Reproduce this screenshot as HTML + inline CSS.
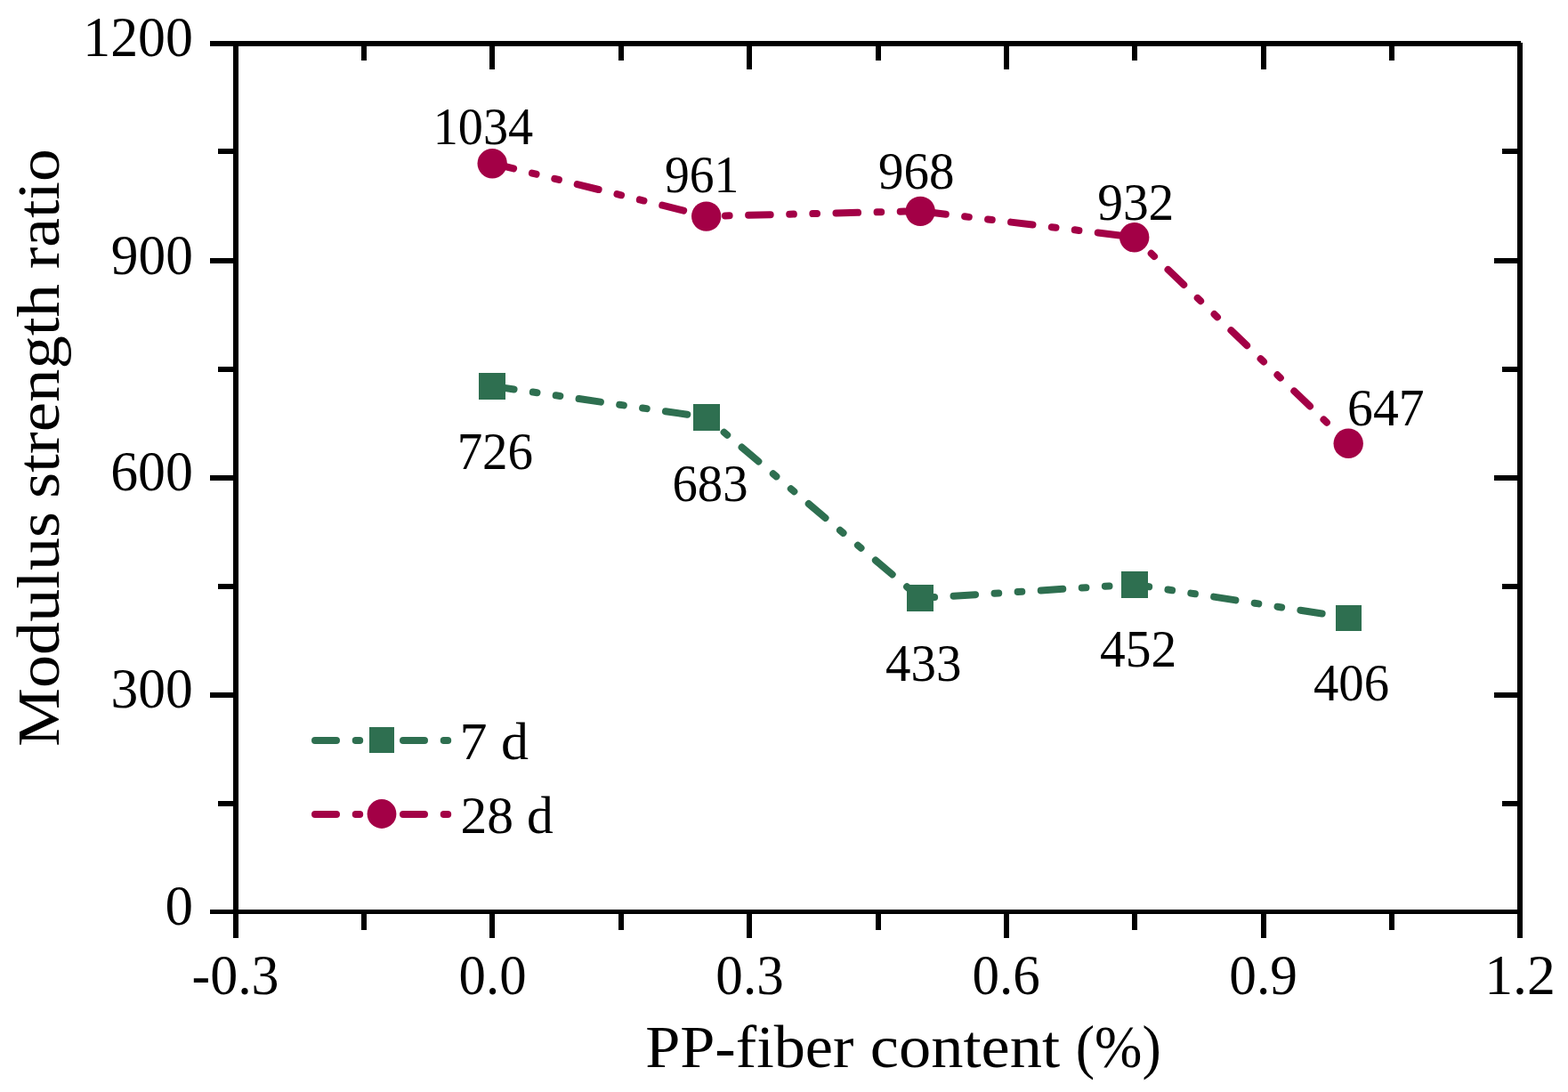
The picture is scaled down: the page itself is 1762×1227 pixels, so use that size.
<!DOCTYPE html>
<html lang="en"><head><meta charset="utf-8"><title>Modulus strength ratio vs PP-fiber content</title>
<style>html,body{margin:0;padding:0;background:#fff}body{width:1762px;height:1227px;overflow:hidden}svg{display:block}text{font-family:"Liberation Serif", "DejaVu Serif", serif;fill:#000;font-kerning:none;white-space:pre}</style>
</head><body>
<svg width="1762" height="1227" viewBox="0 0 1762 1227">
<rect x="0" y="0" width="1762" height="1227" fill="#fff"/>
<g id="axes">
<rect x="236" y="46" width="1473" height="6" fill="#000" shape-rendering="crispEdges"/>
<rect x="236" y="1022" width="1469" height="5" fill="#000" shape-rendering="crispEdges"/>
<rect x="262" y="46" width="6" height="1008" fill="#000" shape-rendering="crispEdges"/>
<rect x="1705" y="48" width="6" height="1006" fill="#000" shape-rendering="crispEdges"/>
<rect x="245" y="167" width="17" height="6" fill="#000" shape-rendering="crispEdges"/>
<rect x="1688" y="167" width="17" height="6" fill="#000" shape-rendering="crispEdges"/>
<rect x="236" y="290" width="26" height="6" fill="#000" shape-rendering="crispEdges"/>
<rect x="1679" y="290" width="26" height="6" fill="#000" shape-rendering="crispEdges"/>
<rect x="245" y="412" width="17" height="6" fill="#000" shape-rendering="crispEdges"/>
<rect x="1688" y="412" width="17" height="6" fill="#000" shape-rendering="crispEdges"/>
<rect x="236" y="534" width="26" height="6" fill="#000" shape-rendering="crispEdges"/>
<rect x="1679" y="534" width="26" height="6" fill="#000" shape-rendering="crispEdges"/>
<rect x="245" y="656" width="17" height="6" fill="#000" shape-rendering="crispEdges"/>
<rect x="1688" y="656" width="17" height="6" fill="#000" shape-rendering="crispEdges"/>
<rect x="236" y="778" width="26" height="6" fill="#000" shape-rendering="crispEdges"/>
<rect x="1679" y="778" width="26" height="6" fill="#000" shape-rendering="crispEdges"/>
<rect x="245" y="900" width="17" height="6" fill="#000" shape-rendering="crispEdges"/>
<rect x="1688" y="900" width="17" height="6" fill="#000" shape-rendering="crispEdges"/>
<rect x="406" y="52" width="6" height="16" fill="#000" shape-rendering="crispEdges"/>
<rect x="406" y="1027" width="6" height="18" fill="#000" shape-rendering="crispEdges"/>
<rect x="550" y="52" width="6" height="26" fill="#000" shape-rendering="crispEdges"/>
<rect x="550" y="1027" width="6" height="27" fill="#000" shape-rendering="crispEdges"/>
<rect x="695" y="52" width="6" height="16" fill="#000" shape-rendering="crispEdges"/>
<rect x="695" y="1027" width="6" height="18" fill="#000" shape-rendering="crispEdges"/>
<rect x="839" y="52" width="6" height="26" fill="#000" shape-rendering="crispEdges"/>
<rect x="839" y="1027" width="6" height="27" fill="#000" shape-rendering="crispEdges"/>
<rect x="984" y="52" width="6" height="16" fill="#000" shape-rendering="crispEdges"/>
<rect x="984" y="1027" width="6" height="18" fill="#000" shape-rendering="crispEdges"/>
<rect x="1128" y="52" width="6" height="26" fill="#000" shape-rendering="crispEdges"/>
<rect x="1128" y="1027" width="6" height="27" fill="#000" shape-rendering="crispEdges"/>
<rect x="1272" y="52" width="6" height="16" fill="#000" shape-rendering="crispEdges"/>
<rect x="1272" y="1027" width="6" height="18" fill="#000" shape-rendering="crispEdges"/>
<rect x="1417" y="52" width="6" height="26" fill="#000" shape-rendering="crispEdges"/>
<rect x="1417" y="1027" width="6" height="27" fill="#000" shape-rendering="crispEdges"/>
<rect x="1561" y="52" width="6" height="16" fill="#000" shape-rendering="crispEdges"/>
<rect x="1561" y="1027" width="6" height="18" fill="#000" shape-rendering="crispEdges"/>
</g>
<g id="series-7d">
<path d="M553.2 433.9 L793.7 468.9" fill="none" stroke="#2E6F50" stroke-width="8" stroke-linecap="round" stroke-dasharray="24.6 21.5 4.7 21.45 4.7 21.45" stroke-dashoffset="0.0"/>
<path d="M793.7 468.9 L1034.2 672.1" fill="none" stroke="#2E6F50" stroke-width="8" stroke-linecap="round" stroke-dasharray="24.6 21.5 4.7 21.45 4.7 21.45" stroke-dashoffset="46.2"/>
<path d="M1034.2 672.1 L1274.7 656.7" fill="none" stroke="#2E6F50" stroke-width="8" stroke-linecap="round" stroke-dasharray="24.6 21.5 4.7 21.45 4.7 21.45" stroke-dashoffset="61.0"/>
<path d="M1274.7 656.7 L1515.2 694.1" fill="none" stroke="#2E6F50" stroke-width="8" stroke-linecap="round" stroke-dasharray="24.6 21.5 4.7 21.45 4.7 21.45" stroke-dashoffset="7.9"/>
<rect x="538" y="419" width="30" height="30" fill="#2E6F50" shape-rendering="crispEdges"/>
<rect x="779" y="454" width="30" height="30" fill="#2E6F50" shape-rendering="crispEdges"/>
<rect x="1019" y="657" width="30" height="30" fill="#2E6F50" shape-rendering="crispEdges"/>
<rect x="1260" y="642" width="30" height="30" fill="#2E6F50" shape-rendering="crispEdges"/>
<rect x="1501" y="680" width="29" height="29" fill="#2E6F50" shape-rendering="crispEdges"/>
</g>
<g id="series-28d">
<path d="M553.2 183.5 L793.7 242.9" fill="none" stroke="#A30046" stroke-width="8" stroke-linecap="round" stroke-dasharray="24.6 21.5 4.7 21.45 4.7 21.45" stroke-dashoffset="0.0"/>
<path d="M793.7 242.9 L1034.2 237.2" fill="none" stroke="#A30046" stroke-width="8" stroke-linecap="round" stroke-dasharray="24.6 21.5 4.7 21.45 4.7 21.45" stroke-dashoffset="51.0"/>
<path d="M1034.2 237.2 L1274.7 266.5" fill="none" stroke="#A30046" stroke-width="8" stroke-linecap="round" stroke-dasharray="24.6 21.5 4.7 21.45 4.7 21.45" stroke-dashoffset="94.2"/>
<path d="M1274.7 266.5 L1515.2 498.1" fill="none" stroke="#A30046" stroke-width="8" stroke-linecap="round" stroke-dasharray="24.6 21.5 4.7 21.45 4.7 21.45" stroke-dashoffset="45.9"/>
<circle cx="553.2" cy="183.7" r="16.7" fill="#A30046"/>
<circle cx="793.7" cy="243.1" r="16.7" fill="#A30046"/>
<circle cx="1034.2" cy="237.4" r="16.7" fill="#A30046"/>
<circle cx="1274.7" cy="266.7" r="16.7" fill="#A30046"/>
<circle cx="1515.2" cy="498.3" r="16.7" fill="#A30046"/>
</g>
<g id="legend">
<path d="M354 832 L503.5 832" fill="none" stroke="#2E6F50" stroke-width="8" stroke-linecap="round" stroke-dasharray="24 21.7 4.5 22.2 4.5 22.1"/>
<rect x="415" y="817" width="28" height="29" fill="#2E6F50" shape-rendering="crispEdges"/>
<path d="M354 915 L503.5 915" fill="none" stroke="#A30046" stroke-width="8" stroke-linecap="round" stroke-dasharray="24 21.7 4.5 22.2 4.5 22.1"/>
<circle cx="429" cy="914.5" r="16.4" fill="#A30046"/>
</g>
<g id="ticklabels">
<text x="93.27" y="63.40" font-size="63.8" textLength="123.58" lengthAdjust="spacingAndGlyphs">1200</text>
<text x="124.82" y="307.60" font-size="63.8" textLength="92.01" lengthAdjust="spacingAndGlyphs">900</text>
<text x="124.14" y="551.40" font-size="63.8" textLength="92.71" lengthAdjust="spacingAndGlyphs">600</text>
<text x="124.56" y="795.30" font-size="63.8" textLength="92.29" lengthAdjust="spacingAndGlyphs">300</text>
<text x="185.40" y="1039.30" font-size="63.8" textLength="31.50" lengthAdjust="spacingAndGlyphs">0</text>
<text x="215.50" y="1117.20" font-size="63.8" textLength="98.12" lengthAdjust="spacingAndGlyphs">-0.3</text>
<text x="515.59" y="1117.20" font-size="63.8" textLength="75.93" lengthAdjust="spacingAndGlyphs">0.0</text>
<text x="804.37" y="1117.20" font-size="63.8" textLength="76.31" lengthAdjust="spacingAndGlyphs">0.3</text>
<text x="1092.57" y="1117.20" font-size="63.8" textLength="76.35" lengthAdjust="spacingAndGlyphs">0.6</text>
<text x="1381.26" y="1117.20" font-size="63.8" textLength="76.65" lengthAdjust="spacingAndGlyphs">0.9</text>
<text x="1668.19" y="1117.20" font-size="63.8" textLength="79.72" lengthAdjust="spacingAndGlyphs">1.2</text>
</g>
<g id="datalabels">
<text x="486.66" y="162.10" font-size="58.6" textLength="112.52" lengthAdjust="spacingAndGlyphs">1034</text>
<text x="747.01" y="216.20" font-size="58.6" textLength="83.43" lengthAdjust="spacingAndGlyphs">961</text>
<text x="986.96" y="211.70" font-size="58.6" textLength="85.51" lengthAdjust="spacingAndGlyphs">968</text>
<text x="1233.15" y="247.20" font-size="58.6" textLength="86.22" lengthAdjust="spacingAndGlyphs">932</text>
<text x="1514.12" y="478.30" font-size="58.6" textLength="86.44" lengthAdjust="spacingAndGlyphs">647</text>
<text x="513.64" y="526.90" font-size="58.6" textLength="85.45" lengthAdjust="spacingAndGlyphs">726</text>
<text x="755.46" y="562.80" font-size="58.6" textLength="85.05" lengthAdjust="spacingAndGlyphs">683</text>
<text x="995.09" y="764.90" font-size="58.6" textLength="85.44" lengthAdjust="spacingAndGlyphs">433</text>
<text x="1235.98" y="749.00" font-size="58.6" textLength="86.19" lengthAdjust="spacingAndGlyphs">452</text>
<text x="1475.99" y="787.10" font-size="58.6" textLength="85.10" lengthAdjust="spacingAndGlyphs">406</text>
</g>
<g id="legendlabels">
<text x="516.41" y="852.90" font-size="58.6" textLength="77.55" lengthAdjust="spacingAndGlyphs">7 d</text>
<text x="517.48" y="935.80" font-size="58.6" textLength="104.24" lengthAdjust="spacingAndGlyphs">28 d</text>
</g>
<g id="titles">
<text y="1199.00" font-size="68.5"><tspan x="725.18" textLength="234.24" lengthAdjust="spacingAndGlyphs">PP-fiber</tspan> <tspan x="977.84" textLength="213.28" lengthAdjust="spacingAndGlyphs">content</tspan> <tspan x="1208.79" textLength="95.92" lengthAdjust="spacingAndGlyphs">(%)</tspan></text>
<text y="66.20" font-size="68.5" transform="rotate(-90)"><tspan x="-839.14" textLength="264.12" lengthAdjust="spacingAndGlyphs">Modulus</tspan> <tspan x="-560.07" textLength="241.06" lengthAdjust="spacingAndGlyphs">strength</tspan> <tspan x="-302.28" textLength="135.08" lengthAdjust="spacingAndGlyphs">ratio</tspan></text>
</g>
</svg>
</body></html>
